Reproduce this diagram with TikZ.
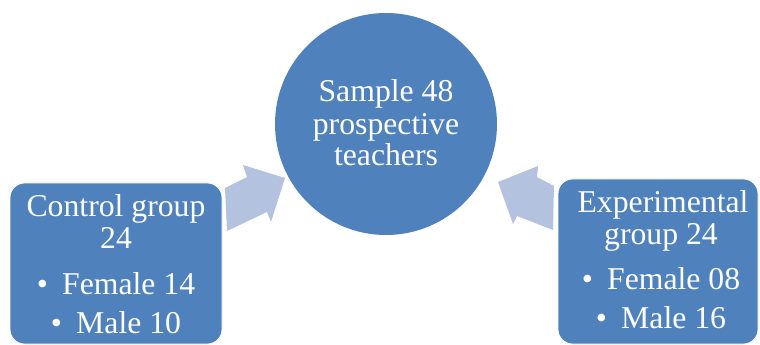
\documentclass[tikz,border=0pt]{standalone}
\usepackage{fontspec}
\setmainfont{Liberation Serif}
\definecolor{blockblue}{HTML}{4F81BD}
\definecolor{arrowblue}{HTML}{B3C2DE}
\begin{document}
\begin{tikzpicture}[x=0.75pt,y=-0.75pt,
  txt/.style={text=white,font=\fontsize{23.8}{28}\selectfont,anchor=base,inner sep=0pt},
  groupbox/.style={fill=blockblue,draw=white,line width=0.6pt,rounded corners=11pt},
  blockarrow/.style={fill=arrowblue,draw=none},
  samplecircle/.style={circle,fill=blockblue,draw=none,minimum size=166.5pt,inner sep=0pt}]
\useasboundingbox (0,0) rectangle (760,345);
% block arrows
\fill[blockarrow] (225,188) -- (247,177) -- (243,165) -- (285,178) -- (271,222) -- (267,212) -- (227,231) -- cycle;
\fill[blockarrow] (554,186) -- (537,177) -- (538,166) -- (498,182) -- (513,224) -- (517,216) -- (553,230) -- cycle;
% circle
\node[samplecircle] (sample) at (386,124) {};
\node[txt] (s1) at (386,102) {Sample 48};
\node[txt] (s2) at (386,135) {prospective};
\node[txt] (s3) at (386,166) {teachers};
% left box
\draw[groupbox] (10,183) rectangle (222,344);
\node[txt] (c1) at (116,217) {Control group};
\node[txt] (c2) at (116,248) {24};
\node[txt] (c3) at (116,295) {\textbullet\hspace{0.45em}Female 14};
\node[txt] (c4) at (116,333) {\textbullet\hspace{0.45em}Male 10};
% right box
\draw[groupbox] (558,179) rectangle (758,344);
\node[txt] (e1) at (663,213) {Experimental};
\node[txt] (e2) at (661,245) {group 24};
\node[txt] (e3) at (661,290) {\textbullet\hspace{0.45em}Female 08};
\node[txt] (e4) at (661,328) {\textbullet\hspace{0.45em}Male 16};
\end{tikzpicture}
\end{document}
